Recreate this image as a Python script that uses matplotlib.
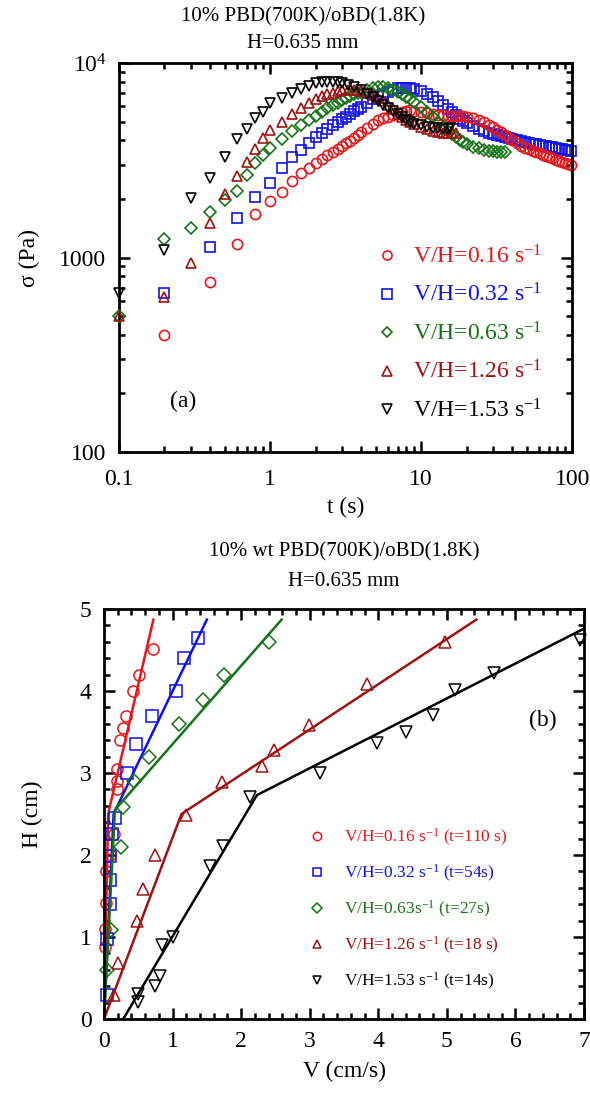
import numpy as np
import matplotlib
matplotlib.use("Agg")
import matplotlib.pyplot as plt
from matplotlib.ticker import FixedLocator, LogLocator, NullFormatter, FixedFormatter, MultipleLocator

plt.rcParams['font.family'] = ['Liberation Serif', 'DejaVu Serif']
plt.rcParams['mathtext.fontset'] = 'custom'
plt.rcParams['mathtext.rm'] = 'Liberation Serif'
plt.rcParams['mathtext.it'] = 'Liberation Serif:italic'

# ----- (a) stress vs time ----- #
t_a = [0.2, 0.4, 0.6, 0.8, 1.0, 1.2, 1.4, 1.6, 1.8, 2.0, 2.2, 2.4, 2.6, 2.8, 3.0,
       3.2, 3.4, 3.6, 3.8, 4.0, 4.4, 4.8, 5.2, 5.6, 6.0, 6.5, 7.0, 7.5, 8.0, 8.5,
       9.0, 10, 11, 12, 13, 14, 15, 16, 17, 18, 19, 20, 22, 24, 26, 28, 30, 32,
       34, 36, 38, 40, 43, 46, 49, 52, 55, 58, 61, 64, 67, 70, 74, 78, 82, 86,
       90, 94, 98]
s_016 = [400, 750, 1170, 1670, 1950, 2170, 2470, 2720, 2880, 3050, 3200, 3350, 3480, 3620, 3750,
         3870, 3990, 4100, 4250, 4400, 4650, 4880, 5080, 5200, 5300, 5420, 5530, 5620, 5680, 5700,
         5680, 5600, 5520, 5460, 5420, 5390, 5370, 5360, 5350, 5330, 5310, 5280, 5200, 5080, 4950,
         4820, 4680, 4540, 4400, 4250, 4120, 4000, 3870, 3760, 3670, 3600, 3540, 3480, 3430, 3380,
         3330, 3290, 3240, 3190, 3140, 3100, 3060, 3030, 3000]
s_032 = [656, 1130, 1600, 2050, 2420, 2890, 3290, 3570, 3900, 4150, 4370, 4600, 4800, 5000, 5150,
         5300, 5500, 5650, 5800, 5950, 6250, 6500, 6750, 6950, 7100, 7250, 7400, 7450, 7450, 7420,
         7350, 7200, 6950, 6650, 6350, 6050, 5800, 5580, 5380, 5180, 5020, 4900, 4720, 4580, 4470,
         4390, 4320, 4260, 4210, 4160, 4120, 4080, 4030, 3980, 3930, 3890, 3850, 3820, 3790, 3760,
         3730, 3710, 3680, 3650, 3620, 3600, 3580, 3560, 3540]

t_b = [0.1, 0.2, 0.3, 0.4, 0.5, 0.6, 0.7, 0.8, 0.9, 1.0, 1.2, 1.4, 1.6, 1.8, 2.0,
       2.2, 2.4, 2.6, 2.8, 3.0, 3.2, 3.4, 3.6, 3.8, 4.0, 4.4, 4.8, 5.2, 5.6, 6.0,
       6.5, 7.0, 7.5, 8.0, 8.5, 9.0, 10, 11, 12, 13, 14, 15, 16, 17, 18, 19, 20,
       22, 24, 26, 28, 30, 32, 34, 36]
s_063 = [500, 1245, 1420, 1720, 1980, 2200, 2650, 3050, 3350, 3650, 4050, 4450, 4800, 5100, 5350,
         5600, 5850, 6050, 6250, 6450, 6600, 6750, 6900, 7000, 7100, 7300, 7450, 7550, 7550, 7450,
         7300, 7080, 6900, 6700, 6500, 6300, 5950, 5600, 5250, 4950, 4700, 4480, 4300, 4150, 4020,
         3920, 3840, 3720, 3640, 3590, 3550, 3520, 3500, 3480, 3470]

t_c = [0.1, 0.2, 0.3, 0.4, 0.5, 0.6, 0.7, 0.8, 0.9, 1.0, 1.2, 1.4, 1.6, 1.8, 2.0,
       2.2, 2.4, 2.6, 2.8, 3.0, 3.3, 3.6, 4.0, 4.4, 4.8, 5.2, 5.6, 6.0, 6.5, 7.0,
       7.5, 8.0, 8.5, 9.0, 10, 11, 12, 13, 14, 15, 16, 17]
s_126 = [500, 630, 935, 1500, 2120, 2620, 3090, 3610, 4110, 4530, 5000, 5500, 5900, 6250, 6550,
         6750, 6900, 7050, 7150, 7250, 7300, 7300, 7200, 7050, 6850, 6600, 6350, 6100, 5800, 5500,
         5250, 5080, 4950, 4850, 4700, 4570, 4480, 4420, 4390, 4370, 4370, 4380]

t_d = [0.1, 0.2, 0.3, 0.4, 0.5, 0.6, 0.7, 0.8, 0.9, 1.0, 1.2, 1.4, 1.6, 1.8, 2.0,
       2.2, 2.4, 2.6, 2.8, 3.0, 3.3, 3.6, 4.0, 4.4, 4.8, 5.2, 5.6, 6.0, 6.5, 7.0,
       7.5, 8.0, 8.5, 9.0, 10, 11, 12, 13, 14, 15, 15.5]
s_153 = [656, 1090, 2020, 2570, 3290, 4070, 4580, 5210, 5630, 6220, 6600, 7000, 7350, 7650, 7850,
         7950, 8000, 8000, 7950, 7900, 7750, 7550, 7250, 6950, 6650, 6350, 6100, 5900, 5650, 5450,
         5250, 5100, 4980, 4880, 4780, 4700, 4650, 4620, 4600, 4600, 4620]

# ----- (b) velocity profiles ----- #
V_016 = [0.72, 0.51, 0.42, 0.32, 0.28, 0.23, 0.185, 0.19, 0.185, 0.14, 0.09, 0.03, 0.03, 0.015, 0.015]
H_016 = [4.51, 4.2, 4.0, 3.7, 3.55, 3.4, 3.05, 2.9, 2.8, 2.25, 2.0, 1.8, 1.41, 1.1, 0.88]
V_032 = [1.37, 1.16, 1.05, 0.70, 0.46, 0.34, 0.16, 0.11, 0.09, 0.09, 0.08, 0.04, 0.04]
H_032 = [4.65, 4.4, 4.0, 3.7, 3.35, 3.0, 2.45, 2.25, 1.99, 1.70, 1.40, 0.98, 0.29]
V_063 = [2.41, 1.75, 1.45, 1.10, 0.65, 0.43, 0.28, 0.25, 0.10, 0.05]
H_063 = [4.6, 4.2, 3.89, 3.6, 3.2, 2.9, 2.59, 2.1, 1.09, 0.6]
V_126 = [0.14, 0.21, 0.48, 0.57, 0.74, 1.20, 1.72, 2.31, 2.48, 2.99, 3.84, 4.97]
H_126 = [0.29, 0.68, 1.19, 1.58, 2.0, 2.49, 2.89, 3.09, 3.28, 3.59, 4.09, 4.6]
V_153 = [0.5, 0.5, 0.74, 0.82, 0.84, 1.00, 1.55, 1.74, 2.13, 3.15, 3.98, 4.41, 4.80, 5.12, 5.68, 6.94]
H_153 = [0.21, 0.31, 0.40, 0.52, 0.90, 1.0, 1.87, 2.11, 2.71, 3.0, 3.36, 3.5, 3.71, 4.01, 4.22, 4.62]

# piecewise linear fits (break points)
fitV_016 = [0, 0.06, 0.72]
fitH_016 = [0, 2.5, 4.87]
fitV_032 = [0, 0.14, 1.50]
fitH_032 = [0, 2.5, 4.87]
fitV_063 = [0, 0.16, 2.59]
fitH_063 = [0, 2.55, 4.87]
fitV_126 = [0, 1.13, 5.43]
fitH_126 = [0, 2.5, 4.87]
fitV_153 = [0.28, 2.23, 7.0]
fitH_153 = [0, 2.73, 4.76]

c_red = '#e8161a'
c_blue = '#1010ee'
c_green = '#157515'
c_dred = '#a01212'
c_black = 'black'

fig = plt.figure(figsize=(5.9, 10.94), dpi=100)

# ---------- top panel ----------
ax1 = fig.add_axes([0.2017, 0.5868, 0.768, 0.3556])
ms = 7.3
mew = 1.2
series_a = [
    (t_a, s_016, 'o', c_red, 'V/H=0.16 s$^{\\mathregular{-1}}$', 2),
    (t_a, s_032, 's', c_blue, 'V/H=0.32 s$^{\\mathregular{-1}}$', 1),
    (t_b, s_063, 'D', c_green, 'V/H=0.63 s$^{\\mathregular{-1}}$', 3),
    (t_c, s_126, '^', c_dred, 'V/H=1.26 s$^{\\mathregular{-1}}$', 4),
    (t_d, s_153, 'v', c_black, 'V/H=1.53 s$^{\\mathregular{-1}}$', 5),
]
for tt, ss, mk, col, lab, z in series_a:
    m = ms - 1.5 if mk == 'D' else ms
    ax1.plot(tt, ss, mk, color=col, mfc='none', mec=col, ms=m, mew=mew, label=lab, zorder=z, clip_on=False)

ax1.set_xscale('log')
ax1.set_yscale('log')
ax1.set_xlim(0.1, 100)
ax1.set_ylim(100, 10000)
ax1.xaxis.set_major_locator(FixedLocator([0.1, 1, 10, 100]))
ax1.xaxis.set_major_formatter(FixedFormatter(['0.1', '1', '10', '100']))
ax1.yaxis.set_major_locator(FixedLocator([100, 1000, 10000]))
ax1.yaxis.set_major_formatter(FixedFormatter(['100', '1000', '10$^{\\mathregular{4}}$']))
ax1.xaxis.set_minor_locator(LogLocator(base=10, subs=np.arange(2, 10)))
ax1.yaxis.set_minor_locator(LogLocator(base=10, subs=np.arange(2, 10)))
ax1.xaxis.set_minor_formatter(NullFormatter())
ax1.yaxis.set_minor_formatter(NullFormatter())
ax1.text(0.141, 0.129, '(a)', transform=ax1.transAxes, fontsize=17, ha='center', va='center')
leg1 = ax1.legend(loc='upper left', bbox_to_anchor=(0.565, 0.532), frameon=False, fontsize=17,
                  handlelength=1.0, handletextpad=0.6, labelspacing=0.65, borderaxespad=0,
                  borderpad=0, labelcolor='linecolor', markerscale=0.9)

fig.text(303 / 590, 1 - 17 / 1094, '10% PBD(700K)/oBD(1.8K)', fontsize=15, ha='center', va='center')
fig.text(303 / 590, 1 - 43 / 1094, 'H=0.635 mm', fontsize=15, ha='center', va='center')

# ---------- bottom panel ----------
ax2 = fig.add_axes([0.1763, 0.0686, 0.8136, 0.3748])
series_b = [
    (V_016, H_016, fitV_016, fitH_016, 'o', c_red, 'V/H=0.16 s$^{\\mathregular{-1}}$ (t=110 s)'),
    (V_032, H_032, fitV_032, fitH_032, 's', c_blue, 'V/H=0.32 s$^{\\mathregular{-1}}$ (t=54s)'),
    (V_063, H_063, fitV_063, fitH_063, 'D', c_green, 'V/H=0.63s$^{\\mathregular{-1}}$ (t=27s)'),
    (V_126, H_126, fitV_126, fitH_126, '^', c_dred, 'V/H=1.26 s$^{\\mathregular{-1}}$ (t=18 s)'),
    (V_153, H_153, fitV_153, fitH_153, 'v', c_black, 'V/H=1.53 s$^{\\mathregular{-1}}$ (t=14s)'),
]
for vv, hh, fv, fh, mk, col, lab in series_b:
    m = 7 if mk == 'D' else 8
    ax2.plot(fv, fh, '-', color=col, lw=1.8)
    ax2.plot(vv, hh, mk, color=col, mfc='none', mec=col, ms=m, mew=1.1, label=lab, clip_on=False)

ax2.set_xlim(0, 7)
ax2.set_ylim(0, 5)
ax2.xaxis.set_major_locator(MultipleLocator(1))
ax2.xaxis.set_minor_locator(MultipleLocator(0.2))
ax2.yaxis.set_major_locator(MultipleLocator(1))
ax2.yaxis.set_minor_locator(MultipleLocator(0.2))
ax2.text(0.915, 0.729, '(b)', transform=ax2.transAxes, fontsize=17, ha='center', va='center')
leg2 = ax2.legend(loc='upper left', bbox_to_anchor=(0.425, 0.468), frameon=False, fontsize=12.5,
                  handlelength=1.0, handletextpad=1.1, labelspacing=0.85, borderaxespad=0,
                  borderpad=0, labelcolor='linecolor', markerscale=0.75)

fig.text(344 / 590, 1 - 552 / 1094, '10% wt PBD(700K)/oBD(1.8K)', fontsize=15, ha='center', va='center')
fig.text(344 / 590, 1 - 582 / 1094, 'H=0.635 mm', fontsize=15, ha='center', va='center')

for ax in (ax1, ax2):
    for sp in ax.spines.values():
        sp.set_linewidth(2)
    ax.tick_params(which='both', direction='in', top=True, right=True, width=1.8, labelsize=17)
    ax.tick_params(which='major', length=8, pad=9)
    ax.tick_params(which='minor', length=4.5)
ax1.tick_params(axis='x', which='major', pad=12)

ax1.set_xlabel('t (s)', fontsize=17, labelpad=5)
ax1.set_ylabel('σ (Pa)', fontsize=17, labelpad=14)
ax2.set_xlabel('V (cm/s)', fontsize=17, labelpad=6)
ax2.set_ylabel('H (cm)', fontsize=17, labelpad=26)

fig.savefig('out.png', dpi=100)
